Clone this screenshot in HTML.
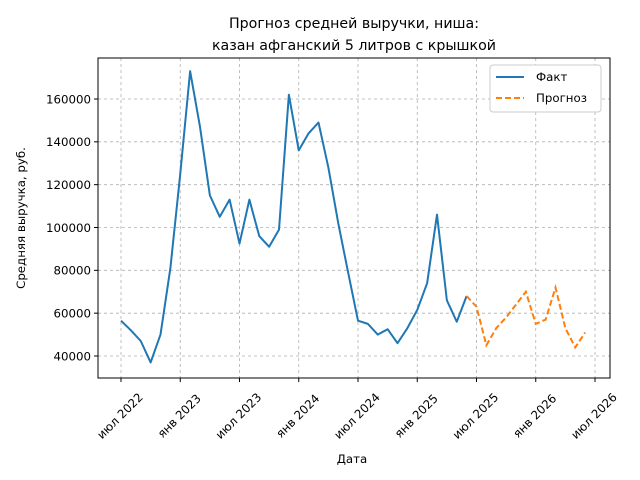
<!DOCTYPE html>
<html><head><meta charset="utf-8"><style>body{margin:0;background:#fff}svg{display:block;font-family:"DejaVu Sans","Liberation Sans",sans-serif}</style></head>
<body>
<svg id="chart" width="640" height="480" viewBox="0 0 640 480">
<text x="354" y="28" font-size="14.2" text-anchor="middle">Прогноз средней выручки, ниша:</text>
<text x="354" y="50" font-size="14.2" text-anchor="middle">казан афганский 5 литров с крышкой</text>
<g id="grid"></g>
<g id="axes"></g>
<g id="series"></g>
<rect x="98" y="58" width="512" height="320" fill="none" stroke="#000" stroke-width="1"/>
<text x="352" y="463" font-size="11.8" text-anchor="middle">Дата</text>
<text transform="translate(25,218) rotate(-90)" font-size="11.8" text-anchor="middle">Средняя выручка, руб.</text>
<g>
<rect x="490" y="65" width="111" height="47" rx="3" fill="#fff" stroke="#ccc"/>
<line x1="496" y1="77" x2="524" y2="77" stroke="#1f77b4" stroke-width="2"/>
<text x="536" y="81" font-size="11.8">Факт</text>
<line x1="496" y1="98" x2="524" y2="98" stroke="#ff7f0e" stroke-width="2" stroke-dasharray="6,3"/>
<text x="536" y="102" font-size="11.8">Прогноз</text>
</g>
</svg>
<script>
const factValues=[56.5,52,47,37,50,81,125,173,147,115,105,113,92.5,113,96,91,99,162,136,144,149,128,102,79,56.5,55,50,52.5,46,53,61.5,74,106,66,56,68];
const forecastValues=[68,63,45,53,58,64,70,55,57,72,53,44,51];
const forecastStart=35;
const yTicks=[40000,60000,80000,100000,120000,140000,160000];
const xTickLabels=["июл 2022","янв 2023","июл 2023","янв 2024","июл 2024","янв 2025","июл 2025","янв 2026","июл 2026"];
const xTickMonths=[0,6,12,18,24,30,36,42,48];
const NS="http://www.w3.org/2000/svg";
function X(m){return 121+m*9.875;}
function Y(v){return 356-(v-40000)*257/120000;}
const grid=document.getElementById('grid'),axes=document.getElementById('axes'),series=document.getElementById('series');
function mk(tag,attrs,parent){const e=document.createElementNS(NS,tag);for(const k in attrs)e.setAttribute(k,attrs[k]);parent.appendChild(e);return e;}
yTicks.forEach(t=>{const y=Y(t);
const g=mk('line',{x1:98,x2:610,y1:y,y2:y,stroke:'#b0b0b0','stroke-width':0.8,'stroke-dasharray':'3,3'},grid);


const tk=mk('line',{x1:94,x2:98,y1:y,y2:y,stroke:'#000'},axes);


const tx=mk('text',{x:91,y:y+4.3,'font-size':11.8,'text-anchor':'end'},axes);tx.textContent=t;


});
xTickMonths.forEach((m,i)=>{const x=X(m);
const g=mk('line',{x1:x,x2:x,y1:58,y2:378,stroke:'#b0b0b0','stroke-width':0.8,'stroke-dasharray':'3,3'},grid);


const tk=mk('line',{x1:x,x2:x,y1:378,y2:382,stroke:'#000'},axes);


const tx=mk('text',{transform:`translate(${x-1},${416}) rotate(-45)`,'font-size':11.8,'text-anchor':'middle','dominant-baseline':'central'},axes);tx.textContent=xTickLabels[i];


});
const fp=factValues.map((v,i)=>X(i)+','+Y(v*1000)).join(' ');
const l1=mk('polyline',{points:fp,fill:'none',stroke:'#1f77b4','stroke-width':2,'stroke-linejoin':'round'},series);


const pp=forecastValues.map((v,i)=>X(forecastStart+i)+','+Y(v*1000)).join(' ');
const l2=mk('polyline',{points:pp,fill:'none',stroke:'#ff7f0e','stroke-width':2,'stroke-dasharray':'6,3'},series);


</script>
</body></html>
